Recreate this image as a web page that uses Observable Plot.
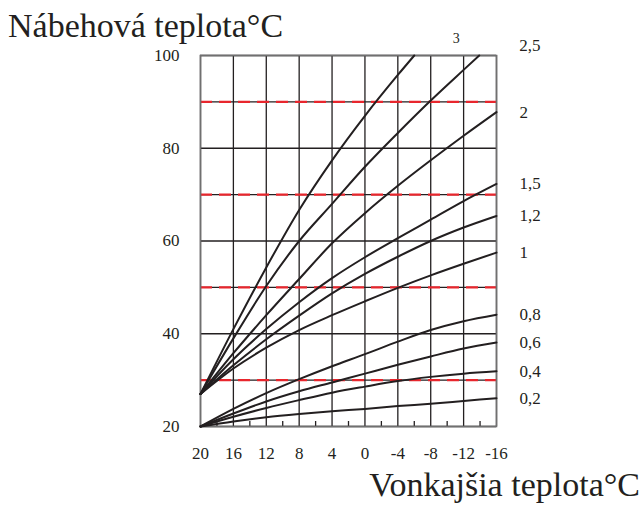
<!DOCTYPE html>
<html><head><meta charset="utf-8">
<script src="https://cdn.jsdelivr.net/npm/d3@7"></script>
<script src="https://cdn.jsdelivr.net/npm/@observablehq/plot@0.6"></script>
<style>html,body{margin:0;padding:0;background:#fff} svg text{font-family:'Liberation Serif','Times New Roman',serif !important}</style>
</head><body><div id="chart"></div>
<script>
// Outdoor temperature grid (°C), left to right
const outdoor = [20, 16, 12, 8, 4, 0, -4, -8, -12, -16];
const minorTicks = [18, 14, 10, 6, 2, -2, -6, -10, -14];
const yTickLabels = [20, 40, 60, 80, 100];
const yGridLines = [20, 30, 40, 50, 60, 70, 80, 90, 100];
const redLines = [30, 50, 70, 90];

// Flow temperature read at each outdoor grid value, per heating curve
const c3  = [27, 41, 54.3, 66.7, 77.4, 87.0, 95.8];
const c25 = [27, 39, 50.3, 60, 68, 76, 83.3, 90.3, 96.9];
const c2  = [27, 35.8, 44, 51.8, 59.5, 66, 71.9, 77.4, 82.7, 87.8];
const c15 = [27, 34.5, 41.0, 46.8, 52.0, 56.5, 60.6, 64.6, 68.6, 72.3];
const c12 = [27, 33.2, 38.8, 43.9, 48.7, 52.9, 56.6, 60.0, 62.9, 65.4];
const c1  = [27, 32.5, 37.0, 40.8, 44.0, 47.0, 49.9, 52.6, 55.1, 57.5];
const c08 = [20, 23.8, 27.2, 30.2, 33.0, 35.6, 38.3, 40.8, 42.7, 44.1];
const c06 = [20, 22.8, 25.4, 27.6, 29.5, 31.4, 33.3, 35.1, 36.8, 38.1];
const c04 = [20, 22.1, 24.0, 25.7, 27.3, 28.6, 29.8, 30.7, 31.4, 31.9];
const c02 = [20, 21.1, 22.0, 22.7, 23.3, 23.8, 24.4, 24.9, 25.5, 26.1];
// outdoor temperature where the steep curves reach 100 °C
const reach100 = {"3": -6.0, "2,5": -13.9};

const curveLabels = ["3", "2,5", "2", "1,5", "1,2", "1", "0,8", "0,6", "0,4", "0,2"];
const curveSeries = [c3, c25, c2, c15, c12, c1, c08, c06, c04, c02];

const rows = [];
curveSeries.forEach((vals, k) => {
  const label = curveLabels[k];
  vals.forEach((v, i) => rows.push({curve: label, x: outdoor[i], y: v}));
  if (reach100[label] !== undefined) rows.push({curve: label, x: reach100[label], y: 100});
});
const ends = curveLabels.map(l => rows.filter(r => r.curve === l).at(-1));
const endsRight = ends.filter(d => d.x === -16);
const end25 = ends.filter(d => d.curve === "2,5");
const end3 = ends.filter(d => d.curve === "3");

const ink = "#231f20";
const font = "'Liberation Serif', 'Times New Roman', serif";

const chart = Plot.plot({
  width: 643, height: 506,
  marginLeft: 200, marginRight: 147, marginTop: 55, marginBottom: 80,
  style: {fontFamily: font, fontSize: "17px", color: ink, background: "#fff"},
  x: {domain: [20, -16], label: null},
  y: {domain: [20, 100], label: null},
  marks: [
    Plot.ruleX(outdoor, {stroke: ink, strokeWidth: 1.3}),
    Plot.ruleY(yGridLines, {stroke: ink, strokeWidth: 1.3}),
    Plot.ruleY(redLines, {stroke: "#e8262d", strokeWidth: 2.3, strokeDasharray: "12 7"}),
    Plot.ruleX(minorTicks, {y1: 20, y2: 20, insetTop: -5, stroke: ink, strokeWidth: 1.3}),
    Plot.frame({stroke: "#707070", strokeWidth: 1.6}),
    Plot.line(rows, {x: "x", y: "y", z: "curve", stroke: ink, strokeWidth: 2, curve: "monotone-x"}),
    Plot.axisY(yTickLabels, {tickSize: 0, tickPadding: 21, fontSize: 17, fontFamily: font, tickFormat: d => String(d)}),
    Plot.axisX(outdoor, {tickSize: 0, tickPadding: 20, fontSize: 17, fontFamily: font, tickFormat: d => String(d)}),
    Plot.text(endsRight, {x: "x", y: "y", text: "curve", dx: 23, textAnchor: "start", fontSize: 17, fontFamily: font, fill: ink}),
    Plot.text(end25, {x: "x", y: "y", text: "curve", dx: 40, dy: -10, textAnchor: "start", fontSize: 17, fontFamily: font, fill: ink}),
    Plot.text(end3, {x: "x", y: "y", text: "curve", dx: 42, dy: -17, textAnchor: "middle", fontSize: 14, fontFamily: font, fill: ink})
  ]
});

const svg = d3.select(chart);
svg.append("text").attr("x", 8).attr("y", 37).attr("text-anchor", "start")
  .attr("font-family", font).attr("font-size", 34).attr("fill", ink)
  .text("Nábehová teplota°C");
svg.append("text").attr("x", 640).attr("y", 496).attr("text-anchor", "end")
  .attr("font-family", font).attr("font-size", 34).attr("fill", ink)
  .text("Vonkajšia teplota°C");

document.getElementById("chart").append(chart);
</script>
</body></html>
